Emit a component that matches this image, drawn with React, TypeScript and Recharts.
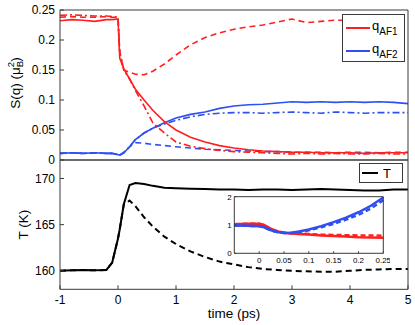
import React from 'react';
import { LineChart, Line, XAxis, YAxis, Legend, Label, CartesianGrid } from 'recharts';

const FONT = '"Liberation Sans", Arial, Helvetica, sans-serif';
const RED = '#ff1f1f';
const BLUE = '#2f4ff2';
const AXIS = '#3a3a3a';

// time (ps), shared by both main panels
const time = [-1, -0.8, -0.6, -0.4, -0.2, -0.1, 0, 0.03, 0.1, 0.2, 0.3, 0.45, 0.6, 0.8, 1, 1.25, 1.5, 1.75, 2, 2.25, 2.5, 2.75, 3, 3.25, 3.5, 3.75, 4, 4.25, 4.5, 4.75, 5];

// S(q) for q_AF1 (red) and q_AF2 (blue): solid, dashed, dash-dot
const af1Solid = [0.232, 0.234, 0.233, 0.231, 0.234, 0.234, 0.235, 0.17, 0.152, 0.135, 0.118, 0.1, 0.083, 0.064, 0.05, 0.038, 0.03, 0.024, 0.02, 0.017, 0.015, 0.014, 0.013, 0.013, 0.012, 0.012, 0.012, 0.011, 0.012, 0.012, 0.012];
const af1Dash = [0.238, 0.239, 0.238, 0.238, 0.239, 0.238, 0.238, 0.18, 0.15, 0.146, 0.143, 0.142, 0.148, 0.16, 0.175, 0.192, 0.204, 0.212, 0.218, 0.222, 0.225, 0.23, 0.235, 0.229, 0.231, 0.233, 0.233, 0.232, 0.233, 0.233, 0.233];
const af1DashDot = [0.241, 0.242, 0.241, 0.24, 0.24, 0.239, 0.238, 0.18, 0.15, 0.135, 0.116, 0.09, 0.062, 0.045, 0.03, 0.023, 0.019, 0.016, 0.014, 0.013, 0.012, 0.011, 0.01, 0.011, 0.01, 0.011, 0.01, 0.01, 0.011, 0.01, 0.01];
const af2Solid = [0.011, 0.012, 0.011, 0.012, 0.011, 0.011, 0.009, 0.008, 0.012, 0.022, 0.034, 0.045, 0.053, 0.062, 0.07, 0.076, 0.08, 0.086, 0.09, 0.092, 0.093, 0.095, 0.097, 0.096, 0.097, 0.096, 0.097, 0.096, 0.097, 0.096, 0.094];
const af2Dash = [0.011, 0.012, 0.011, 0.012, 0.011, 0.011, 0.009, 0.008, 0.013, 0.022, 0.029, 0.028, 0.026, 0.024, 0.022, 0.02, 0.018, 0.017, 0.016, 0.015, 0.014, 0.014, 0.013, 0.013, 0.013, 0.012, 0.013, 0.013, 0.012, 0.013, 0.013];
const af2DashDot = [0.011, 0.012, 0.011, 0.012, 0.011, 0.011, 0.009, 0.008, 0.012, 0.022, 0.034, 0.045, 0.053, 0.06, 0.066, 0.072, 0.076, 0.078, 0.079, 0.079, 0.078, 0.079, 0.08, 0.079, 0.078, 0.08, 0.079, 0.078, 0.079, 0.079, 0.079];

// temperature (K)
const tempSolid = [160.0, 160.05, 160.1, 160.05, 160.1, 160.9, 163.5, 164.5, 167.2, 169.3, 169.5, 169.4, 169.2, 169.0, 168.95, 168.9, 168.85, 168.8, 168.8, 168.75, 168.8, 168.8, 168.75, 168.8, 168.85, 168.8, 168.75, 168.7, 168.7, 168.8, 168.8];
const tempDash = [160.0, 160.05, 160.1, 160.05, 160.1, 160.9, 163.5, 164.5, 167.2, 167.6, 167.0, 165.8, 164.8, 163.7, 162.9, 162.1, 161.5, 161.0, 160.7, 160.4, 160.2, 160.1, 160.0, 159.95, 159.9, 159.9, 160.0, 160.1, 160.15, 160.2, 160.2];

// inset (normalised)
const insetTime = [-0.05, -0.025, 0, 0.01, 0.02, 0.03, 0.04, 0.05, 0.065, 0.08, 0.1, 0.125, 0.15, 0.175, 0.2, 0.225, 0.25];
const insetRed = [1.03, 1.04, 1.04, 1.0, 0.9, 0.82, 0.76, 0.73, 0.7, 0.68, 0.66, 0.63, 0.61, 0.59, 0.57, 0.56, 0.55];
const insetRedDash = [1.03, 1.04, 1.04, 1.0, 0.9, 0.82, 0.76, 0.73, 0.71, 0.7, 0.68, 0.66, 0.65, 0.64, 0.63, 0.63, 0.62];
const insetBlue = [0.98, 0.97, 0.96, 0.92, 0.84, 0.78, 0.74, 0.72, 0.73, 0.77, 0.84, 0.96, 1.1, 1.26, 1.45, 1.68, 1.97];
const insetBlueDash = [0.98, 0.97, 0.96, 0.92, 0.84, 0.78, 0.74, 0.72, 0.72, 0.75, 0.81, 0.92, 1.04, 1.19, 1.36, 1.58, 1.88];

const xTicks = [-1, 0, 1, 2, 3, 4, 5];
const sqTicks = [0, 0.05, 0.1, 0.15, 0.2, 0.25];
const tTicks = [160, 165, 170];
const insetXTicks = [0, 0.05, 0.1, 0.15, 0.2, 0.25];
const insetYTicks = [0, 1, 2];

const mainData = time.map((t, i) => ({
  t,
  af1Solid: af1Solid[i],
  af1Dash: af1Dash[i],
  af1DashDot: af1DashDot[i],
  af2Solid: af2Solid[i],
  af2Dash: af2Dash[i],
  af2DashDot: af2DashDot[i],
  tempSolid: tempSolid[i],
  tempDash: tempDash[i],
}));

const insetData = insetTime.map((t, i) => ({
  t,
  red: insetRed[i],
  redDash: insetRedDash[i],
  blue: insetBlue[i],
  blueDash: insetBlueDash[i],
}));

const tickStyle = { fontSize: 12, fill: '#000', fontFamily: FONT };
const smallTick = { fontSize: 8, fill: '#000', fontFamily: FONT };

const SqLabel = (props: any) => {
  const vb = props.viewBox || { x: 59, y: 10, width: 1, height: 150 };
  const cx = vb.x + (vb.width || 0) - 40;
  const cy = vb.y + vb.height / 2 - 2;
  return (
    <text x={cx} y={cy} transform={`rotate(-90 ${cx} ${cy})`} textAnchor="middle" fontSize={13.5} fill="#000" fontFamily={FONT}>
      S(q) (μ<tspan fontSize={9.5} dy={3}>B</tspan>
      <tspan fontSize={9.5} dx={-6.3} dy={-9}>2</tspan>
      <tspan dy={6}>)</tspan>
    </text>
  );
};

const TLabel = (props: any) => {
  const vb = props.viewBox || { x: 59, y: 10, width: 1, height: 129.3 };
  const cx = vb.x + (vb.width || 0) - 32;
  const cy = vb.y + vb.height / 2;
  return (
    <text x={cx} y={cy} transform={`rotate(-90 ${cx} ${cy})`} textAnchor="middle" fontSize={13.5} fill="#000" fontFamily={FONT}>
      T (K)
    </text>
  );
};

const TimeLabel = (props: any) => {
  const vb = props.viewBox || { x: 60, y: 139.3, width: 348, height: 30 };
  const cx = vb.x + vb.width / 2;
  const cy = vb.y + vb.height - 1.5;
  return (
    <text x={cx} y={cy} textAnchor="middle" fontSize={13.5} fill="#000" fontFamily={FONT}>
      time (ps)
    </text>
  );
};

const QLegend = () => (
  <div style={{ width: 63, height: 48, boxSizing: 'border-box', border: `1px solid ${AXIS}`, background: '#fff', fontFamily: FONT, paddingTop: 1 }}>
    {[
      { c: RED, s: 'AF1' },
      { c: BLUE, s: 'AF2' },
    ].map((e) => (
      <div key={e.s} style={{ height: 23, display: 'flex', alignItems: 'center', paddingLeft: 3 }}>
        <svg width={24} height={4} style={{ display: 'block' }}>
          <line x1={0} y1={2} x2={24} y2={2} stroke={e.c} strokeWidth={2} />
        </svg>
        <span style={{ fontSize: 13, marginLeft: 2, lineHeight: '13px', position: 'relative', top: -2 }}>
          q<span style={{ fontSize: 10, position: 'relative', top: 5 }}>{e.s}</span>
        </span>
      </div>
    ))}
  </div>
);

const TempLegend = () => (
  <div style={{ width: 44, height: 20, boxSizing: 'border-box', border: `1px solid ${AXIS}`, background: '#fff', fontFamily: FONT, display: 'flex', alignItems: 'center', paddingLeft: 2 }}>
    <svg width={16} height={4} style={{ display: 'block' }}>
      <line x1={0} y1={2} x2={16} y2={2} stroke="#000" strokeWidth={2} />
    </svg>
    <span style={{ fontSize: 13, marginLeft: 5, lineHeight: '13px' }}>T</span>
  </div>
);

export default function App() {
  return (
    <div style={{ position: 'absolute', left: 0, top: 0, width: 415, height: 325, background: '#fff' }}>
      <div style={{ position: 'absolute', left: 0, top: 0 }}>
        <LineChart width={415} height={170} data={mainData} margin={{ top: 9, right: 6, bottom: 9, left: 59 }}>
          <XAxis dataKey="t" type="number" domain={[-1, 5]} ticks={xTicks} height={1} tick={false} tickSize={-4} stroke={AXIS} />
          <XAxis xAxisId="top" orientation="top" dataKey="t" type="number" domain={[-1, 5]} ticks={xTicks} height={1} tick={false} tickSize={-4} stroke={AXIS} />
          <YAxis type="number" domain={[0, 0.25]} ticks={sqTicks} interval={0} width={1} tickSize={-4} tickMargin={9} tick={tickStyle} stroke={AXIS}>
            <Label content={SqLabel} />
          </YAxis>
          <YAxis yAxisId="right" orientation="right" type="number" domain={[0, 0.25]} ticks={sqTicks} width={1} tick={false} tickSize={-4} stroke={AXIS} />
          <Legend layout="horizontal" verticalAlign="middle" align="center" content={QLegend} wrapperStyle={{ left: 342, top: 14, width: 63, height: 48 }} />
          <Line dataKey="af2Dash" stroke={BLUE} strokeWidth={1.6} strokeDasharray="6 4" dot={false} isAnimationActive={false} />
          <Line dataKey="af2DashDot" stroke={BLUE} strokeWidth={1.6} strokeDasharray="7 3 2 3" dot={false} isAnimationActive={false} />
          <Line dataKey="af2Solid" stroke={BLUE} strokeWidth={1.6} dot={false} isAnimationActive={false} />
          <Line dataKey="af1DashDot" stroke={RED} strokeWidth={1.6} strokeDasharray="7 3 2 3" dot={false} isAnimationActive={false} />
          <Line dataKey="af1Dash" stroke={RED} strokeWidth={1.6} strokeDasharray="6 4" dot={false} isAnimationActive={false} />
          <Line dataKey="af1Solid" stroke={RED} strokeWidth={1.6} dot={false} isAnimationActive={false} />
        </LineChart>
      </div>

      <div style={{ position: 'absolute', left: 0, top: 150 }}>
        <LineChart width={415} height={175} data={mainData} margin={{ top: 9, right: 6, bottom: 5.7, left: 59 }}>
          <XAxis dataKey="t" type="number" domain={[-1, 5]} ticks={xTicks} interval={0} height={30} tickSize={-4} tickMargin={10} tick={tickStyle} stroke={AXIS}>
            <Label content={TimeLabel} />
          </XAxis>
          <XAxis xAxisId="top" orientation="top" dataKey="t" type="number" domain={[-1, 5]} ticks={xTicks} height={1} tick={false} tickSize={-4} stroke={AXIS} />
          <YAxis type="number" domain={[158, 172]} ticks={tTicks} interval={0} width={1} tickSize={-4} tickMargin={9} tick={tickStyle} stroke={AXIS}>
            <Label content={TLabel} />
          </YAxis>
          <YAxis yAxisId="right" orientation="right" type="number" domain={[158, 172]} ticks={tTicks} width={1} tick={false} tickSize={-4} stroke={AXIS} />
          <Legend layout="horizontal" verticalAlign="middle" align="center" content={TempLegend} wrapperStyle={{ left: 359, top: 13, width: 44, height: 20 }} />
          <Line dataKey="tempDash" stroke="#000" strokeWidth={2} strokeDasharray="6 4" dot={false} isAnimationActive={false} />
          <Line dataKey="tempSolid" stroke="#000" strokeWidth={2} dot={false} isAnimationActive={false} />
        </LineChart>
      </div>

      <div style={{ position: 'absolute', left: 200, top: 190 }}>
        <LineChart width={190} height={80} data={insetData} margin={{ top: 5.7, right: 5.7, bottom: 15.7, left: 33.3 }}>
          <CartesianGrid horizontal={false} vertical={false} fill="#fff" />
          <XAxis dataKey="t" type="number" domain={[-0.05, 0.25]} ticks={insetXTicks} interval={0} height={1} tickSize={-2} tickMargin={6.5} tick={smallTick} stroke={AXIS} />
          <XAxis xAxisId="top" orientation="top" dataKey="t" type="number" domain={[-0.05, 0.25]} ticks={insetXTicks} height={1} tick={false} tickSize={-2} stroke={AXIS} />
          <YAxis type="number" domain={[0, 2]} ticks={insetYTicks} interval={0} width={1} tickSize={-2} tickMargin={4.6} tick={smallTick} stroke={AXIS} />
          <YAxis yAxisId="right" orientation="right" type="number" domain={[0, 2]} ticks={insetYTicks} width={1} tick={false} tickSize={-2} stroke={AXIS} />
          <Line dataKey="redDash" stroke={RED} strokeWidth={2.5} strokeDasharray="5 3" dot={false} isAnimationActive={false} />
          <Line dataKey="red" stroke={RED} strokeWidth={2.5} dot={false} isAnimationActive={false} />
          <Line dataKey="blueDash" stroke={BLUE} strokeWidth={2.5} strokeDasharray="5 3" dot={false} isAnimationActive={false} />
          <Line dataKey="blue" stroke={BLUE} strokeWidth={2.5} dot={false} isAnimationActive={false} />
        </LineChart>
      </div>
    </div>
  );
}
